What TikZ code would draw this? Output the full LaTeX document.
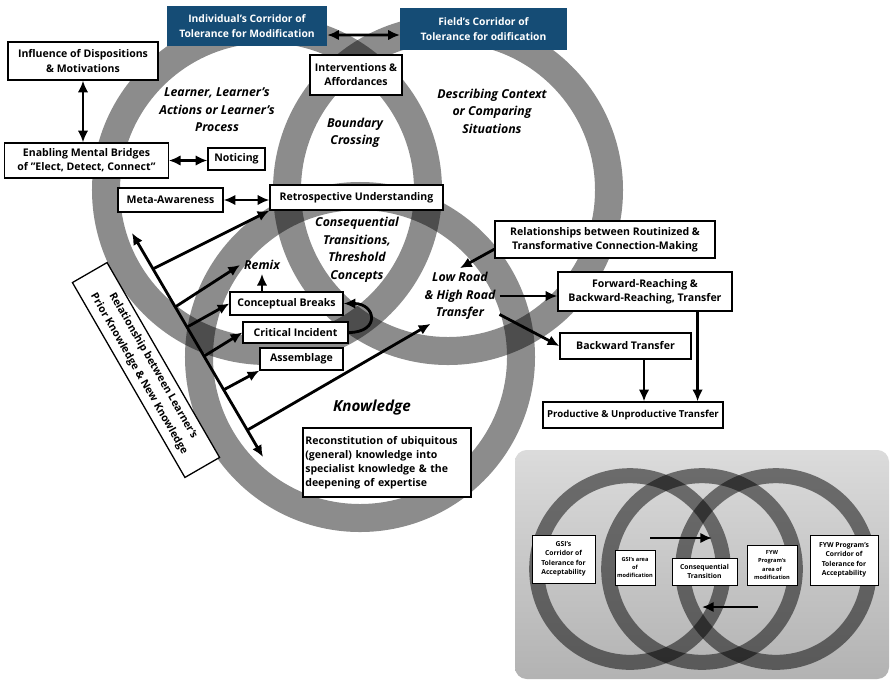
\documentclass[tikz,border=0pt]{standalone}
\usepackage{fontspec}
\setmainfont{Open Sans}
\usetikzlibrary{positioning,calc,arrows.meta}
\definecolor{corblue}{HTML}{154C75}
\tikzset{
	>={Latex[length=10pt,width=9pt]},
	every node/.style={align=center},
	box/.style={draw, fill=white, line width=1.1pt, inner sep=2pt, font=\bfseries\fontsize{9}{12}\selectfont},
	corridor/.style={fill=corblue, text=white, inner sep=2pt, font=\bfseries\fontsize{8.8}{12.5}\selectfont},
	theme/.style={font=\bfseries\itshape\fontsize{10.5}{15}\selectfont},
	ring/.style={draw=black, draw opacity=0.45, line width=0.84cm},
	minibox/.style={draw, fill=white, line width=0.6pt, inner sep=1pt, font=\bfseries\fontsize{5.8}{8}\selectfont},
	miniring/.style={draw=black, draw opacity=0.5, line width=0.45cm},
	arr/.style={->, line width=2.4pt},
	both/.style={<->, line width=2.4pt}
}

\begin{document}
\begin{tikzpicture}[x=0.03cm, y=-0.03cm]
	\useasboundingbox (0,0) rectangle (892,689);

	% Inset
	\shade[rounded corners=0.35cm, top color=black!14, bottom color=black!30] (515,450) rectangle (889,679);
	\draw[miniring] (630,569) circle (2.8cm);
	\draw[miniring] (702,569) circle (2.8cm);
	\draw[miniring] (776,569) circle (2.8cm);

	% Rings
	\draw[ring] (267,190) circle (4.83cm);
	\draw[ring] (448,190) circle (4.83cm);
	\draw[ring] (360,357) circle (4.83cm);

	\node[corridor, minimum width=4.8cm, minimum height=1.2cm] (indiv) at (247,26) {Individual's Corridor of\\Tolerance for Modification};
	\node[corridor, minimum width=5cm, minimum height=1.26cm] (field) at (483.5,29) {Field's Corridor of\\Tolerance for odification};
	\node[box, minimum width=4.5cm, minimum height=1.14cm] (infl) at (83,61) {Influence of Dispositions\\\& Motivations};
	\node[box, minimum width=4.9cm, minimum height=1.05cm] (enab) at (86.5,160.5) {Enabling Mental Bridges\\of "Elect, Detect, Connect"};
	\node[box, minimum width=1.71cm, minimum height=0.66cm] (notic) at (236.5,159) {Noticing};
	\node[box, minimum width=3.15cm, minimum height=0.72cm] (meta) at (170.5,200) {Meta-Awareness};
	\node[box, minimum width=5.19cm, minimum height=0.75cm] (retro) at (356.5,197.5) {Retrospective Understanding};
	\node[box, minimum width=2.76cm, minimum height=1.2cm] (interv) at (356,75) {Interventions \&\\Affordances};
	\node[box, minimum width=3.39cm, minimum height=0.69cm] (concept) at (286.5,303.5) {Conceptual Breaks};
	\node[box, minimum width=3.15cm, minimum height=0.63cm] (crit) at (295.5,332.5) {Critical Incident};
	\node[box, minimum width=2.49cm, minimum height=0.66cm] (assem) at (301.5,359) {Assemblage};
	\node[box, text width=4.9cm, align=left, minimum height=2.07cm] (recon) at (387,462.5) {Reconstitution of ubiquitous\\(general) knowledge into\\specialist knowledge \& the\\deepening of expertise};
	\node[box, rotate=-60, font=\bfseries\fontsize{9}{14}\selectfont, minimum width=6.75cm, minimum height=1.2cm] (rel) at (146,370) {Relationship between Learner's\\Prior Knowledge \& New Knowledge};
	\node[box, minimum width=6.6cm, minimum height=1.11cm] (routin) at (605,239.5) {Relationships between Routinized \&\\Transformative Connection-Making};
	\node[box, minimum width=5.22cm, minimum height=1.17cm] (forward) at (645,291.5) {Forward-Reaching \&\\Backward-Reaching, Transfer};
	\node[box, minimum width=3.93cm, minimum height=0.78cm] (backward) at (625.5,346) {Backward Transfer};
	\node[box, font=\bfseries\fontsize{8.2}{10}\selectfont, minimum width=5.4cm, minimum height=0.78cm] (product) at (633,415) {Productive \& Unproductive Transfer};

	\node[theme] (learner) at (217,110) {Learner, Learner's\\Actions or Learner's\\Process};
	\node[theme] (bound) at (355,133) {Boundary\\Crossing};
	\node[theme] (context) at (492,111) {Describing Context\\or Comparing\\Situations};
	\node[theme] (conseq) at (357,250) {Consequential\\Transitions,\\Threshold\\Concepts};
	\node[theme] (remix) at (262,265) {Remix};
	\node[theme] (lowroad) at (460,296) {Low Road\\\& High Road\\Transfer};
	\node[theme, font=\bfseries\itshape\fontsize{13}{15}\selectfont] (know) at (372,408) {Knowledge};

	\node[minibox, minimum width=1.89cm, minimum height=1.44cm] (gsic) at (563.5,559) {GSI's\\Corridor of\\Tolerance for\\Acceptability};
	\node[minibox, font=\bfseries\fontsize{4.8}{7}\selectfont, minimum width=1.2cm, minimum height=1.05cm] (gsia) at (635,567.5) {GSI's area\\of\\modification};
	\node[minibox, minimum width=1.95cm, minimum height=0.81cm] (cons) at (704.5,571.5) {Consequential\\Transition};
	\node[minibox, font=\bfseries\fontsize{4.8}{7}\selectfont, minimum width=1.5cm, minimum height=1.2cm] (fywa) at (772,565) {FYW\\Program's\\area of\\modification};
	\node[minibox, minimum width=2.04cm, minimum height=1.5cm] (fywc) at (844,560) {FYW Program's\\Corridor of\\Tolerance for\\Acceptability};

	\coordinate (relTop) at (132,233);
	\coordinate (relBot) at (263,457);
	\coordinate (r1) at ($(relTop)!0.16!(relBot)$);
	\coordinate (r2) at ($(relTop)!0.33!(relBot)$);
	\coordinate (r3) at ($(relTop)!0.42!(relBot)$);
	\coordinate (r4) at ($(relTop)!0.55!(relBot)$);
	\coordinate (r5) at ($(relTop)!0.70!(relBot)$);
	\coordinate (r6) at ($(relTop)!0.88!(relBot)$);

	\draw[both] ([yshift=-0.27cm]indiv.east) -- ([yshift=-0.18cm]field.west);
	\draw[both] (infl.south) -- (infl.south |- enab.north);
	\draw[both] (enab.east) -- (enab.east -| notic.west);
	\draw[both] (meta.east) -- (meta.east -| retro.west);
	\draw[both] (relTop) -- (relBot);

	\draw[arr] (r1) -- (retro.south west);
	\draw[arr] (r2) -- (remix.west);
	\draw[arr] (r3) -- (concept.west);
	\draw[arr] (r4) -- (crit.west);
	\draw[arr] (r5) -- (assem.south west);
	\draw[arr] (r6) -- ([xshift=0.3cm]lowroad.south west);
	\draw[arr] (remix.south |- concept.north) -- (remix.south);
	\draw[arr] (crit.east) to[out=0, in=0, looseness=2.8] (concept.east);

	\draw[arr] (routin.185) -- (lowroad.north);
	\draw[arr] (lowroad.east) -- (lowroad.east -| forward.west);
	\draw[arr] (lowroad.-25) -- (backward.west);
	\coordinate (bt) at ($(backward.south east)!0.36!(backward.south west)$);
	\draw[arr] (bt) -- (bt |- product.north);
	\coordinate (ft) at ($(forward.south east)!0.2!(forward.south west)$);
	\draw[arr] (ft) -- (ft |- product.north);

	\coordinate (t1) at (650,538);
	\coordinate (t2) at (712,538);
	\coordinate (b1) at (758,607);
	\coordinate (b2) at (702,607);
	\draw[arr] (t1) -- (t2);
	\draw[arr] (b1) -- (b2);
\end{tikzpicture}
\end{document}
